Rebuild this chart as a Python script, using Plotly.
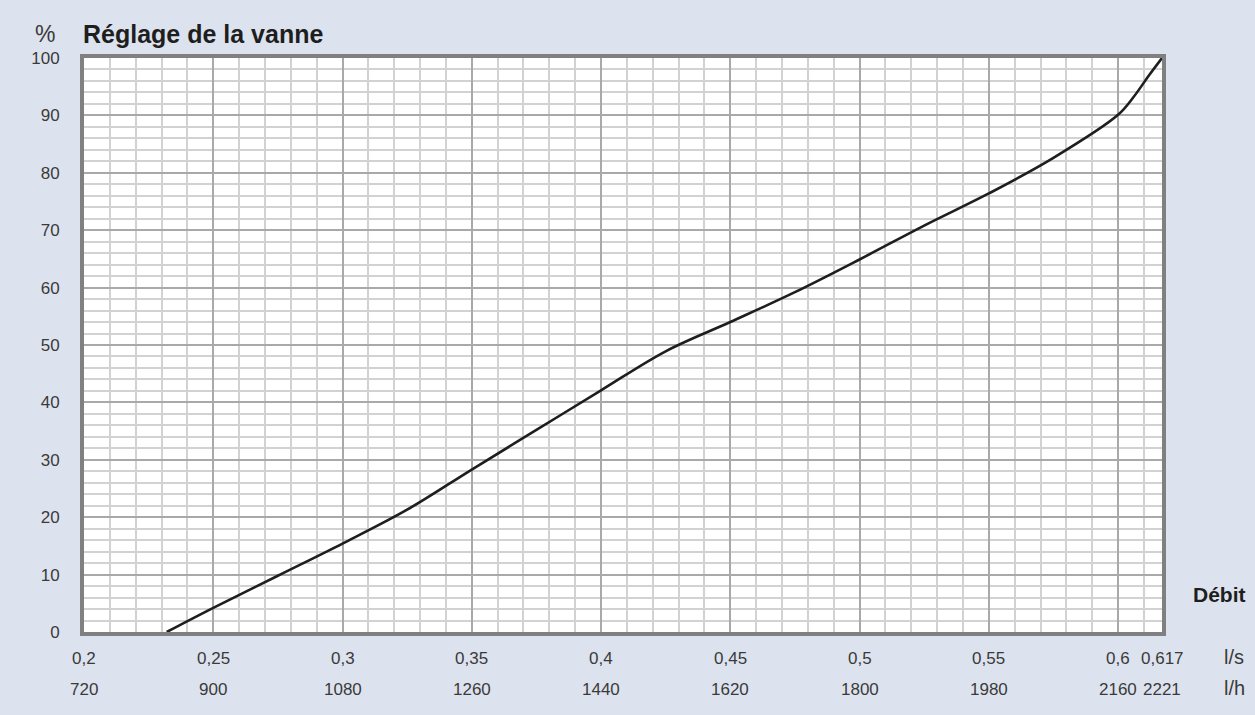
import plotly.graph_objects as go

# Valve characteristic: flow rate (l/s) vs. valve setting (%)
flow_ls = [0.232, 0.25, 0.275, 0.30, 0.325, 0.35, 0.375, 0.40, 0.425, 0.45,
           0.475, 0.50, 0.525, 0.55, 0.575, 0.60, 0.606, 0.612, 0.617]
setting_pct = [0, 4.2, 9.8, 15.4, 21.3, 28.3, 35.2, 42.1, 48.9, 54.0,
               59.2, 64.9, 70.8, 76.4, 82.6, 90.1, 93.2, 97.0, 100]

# Bottom scale labels (two unit rows)
tick_ls = [0.2, 0.25, 0.3, 0.35, 0.4, 0.45, 0.5, 0.55, 0.6, 0.617]
text_ls = ["0,2", "0,25", "0,3", "0,35", "0,4", "0,45", "0,5", "0,55", "0,6", "0,617"]
text_lh = ["720", "900", "1080", "1260", "1440", "1620", "1800", "1980", "2160", "2221"]
y_ticks = [0, 10, 20, 30, 40, 50, 60, 70, 80, 90, 100]

BG = "#dde3ee"
TXT = "#3a3a3a"
DARK = "#1e1e1e"
FONT = "Liberation Sans, Arial, sans-serif"

W, H = 1255, 715
ML, MR, MT, MB = 84, 93, 58, 83

fig = go.Figure()
fig.add_trace(go.Scatter(
    x=flow_ls, y=setting_pct, mode="lines",
    line=dict(color=DARK, width=2.6, shape="spline", smoothing=1.0),
    hoverinfo="skip", showlegend=False,
))

fig.update_layout(
    width=W, height=H,
    margin=dict(l=ML, r=MR, t=MT, b=MB),
    paper_bgcolor=BG, plot_bgcolor="white",
    font=dict(family=FONT, color=TXT, size=17),
    showlegend=False,
)

fig.update_xaxes(
    range=[0.2, 0.617], showticklabels=False, ticks="",
    tick0=0.2, dtick=0.05,
    showgrid=True, gridcolor="#a9a9a9", gridwidth=2,
    minor=dict(dtick=0.01, tick0=0.2, showgrid=True, gridcolor="#d2d2d2", gridwidth=1.5),
    showline=True, linecolor="#808080", linewidth=4, mirror=True,
    zeroline=False, fixedrange=True,
)
fig.update_yaxes(
    range=[0, 100], tickvals=y_ticks, ticks="",
    ticklabelstandoff=17,
    tickfont=dict(size=17, color=TXT, family=FONT),
    showgrid=True, gridcolor="#a9a9a9", gridwidth=2,
    minor=dict(dtick=2, tick0=0, showgrid=True, gridcolor="#d2d2d2", gridwidth=1.5),
    showline=True, linecolor="#808080", linewidth=4, mirror=True,
    zeroline=False, fixedrange=True,
)


def px_x(px):
    return (px - ML) / (W - ML - MR)


def px_y(py):
    return 1 - (py - MT) / (H - MT - MB)


annotations = []
for xv, t1, t2 in zip(tick_ls, text_ls, text_lh):
    annotations.append(dict(x=xv, xref="x", y=0, yref="paper", text=t1,
                            showarrow=False, yanchor="middle", yshift=-26,
                            font=dict(size=17, color=TXT)))
    annotations.append(dict(x=xv, xref="x", y=0, yref="paper", text=t2,
                            showarrow=False, yanchor="middle", yshift=-57,
                            font=dict(size=17, color=TXT)))

annotations += [
    dict(x=px_x(1234), xref="paper", y=px_y(657), yref="paper", text="l/s",
         showarrow=False, xanchor="center", yanchor="middle", font=dict(size=20, color=TXT)),
    dict(x=px_x(1234), xref="paper", y=px_y(688), yref="paper", text="l/h",
         showarrow=False, xanchor="center", yanchor="middle", font=dict(size=20, color=TXT)),
    dict(x=px_x(1248), xref="paper", y=px_y(594), yref="paper", text="<b>Débit</b>",
         showarrow=False, xanchor="right", yanchor="middle", font=dict(size=21, color=DARK)),
    dict(x=px_x(45), xref="paper", y=px_y(34), yref="paper", text="%",
         showarrow=False, xanchor="center", yanchor="middle", font=dict(size=23, color=TXT)),
    dict(x=px_x(81), xref="paper", y=px_y(34), yref="paper", text="<b>Réglage de la vanne</b>",
         showarrow=False, xanchor="left", yanchor="middle", font=dict(size=25, color=DARK)),
]
fig.update_layout(annotations=annotations)

fig.write_html("out.html")
